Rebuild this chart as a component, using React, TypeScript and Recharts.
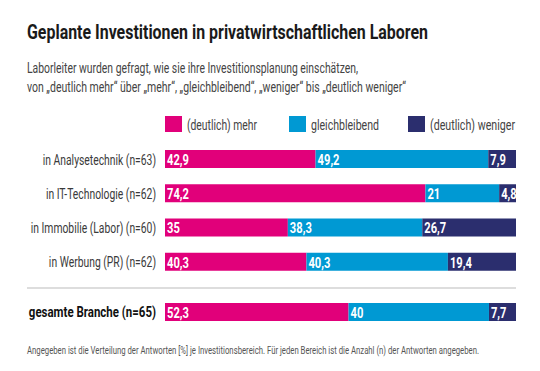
import React from "react";
import { BarChart, Bar, XAxis, YAxis, LabelList } from "recharts";

const categories = [
  "in Analysetechnik (n=63)",
  "in IT-Technologie (n=62)",
  "in Immobilie (Labor) (n=60)",
  "in Werbung (PR) (n=62)",
];
const mehr = [42.9, 74.2, 35, 40.3];
const gleich = [49.2, 21, 38.3, 40.3];
const weniger = [7.9, 4.8, 26.7, 19.4];

const totalCategory = ["gesamte Branche (n=65)"];
const totalMehr = [52.3];
const totalGleich = [40];
const totalWeniger = [7.7];

const seriesNames = ["(deutlich) mehr", "gleichbleibend", "(deutlich) weniger"];
const colors = ["#E1007A", "#0099D3", "#2B2E6E"];

const FONT = "Roboto, 'DejaVu Sans', sans-serif";

const data = categories.map((c, i) => ({ name: c, mehr: mehr[i], gleich: gleich[i], weniger: weniger[i] }));
const totalData = totalCategory.map((c, i) => ({ name: c, mehr: totalMehr[i], gleich: totalGleich[i], weniger: totalWeniger[i] }));

const fmt = (v: any) => String(v).replace(".", ",");

const keys = ["mehr", "gleich", "weniger"];

const BarLabel = (props: any) => {
  const { x, y, height, value } = props;
  return (
    <g transform={`translate(${Number(x) + 2},${Number(y) + Number(height) / 2})`}>
      <text transform="scale(0.72,1)" dy="0.38em" fill="#fff" fontFamily={FONT} fontWeight={700} fontSize={15.5}>
        {fmt(value)}
      </text>
    </g>
  );
};

const makeTick = (bold: boolean) => (props: any) => {
  const { x, y, payload } = props;
  return (
    <g transform={`translate(${x},${y})`}>
      <text
        transform={`scale(${bold ? 0.765 : 0.69},1)`}
        textAnchor="end"
        dy="0.36em"
        fill={bold ? "#111" : "#3a3a3a"}
        fontFamily={FONT}
        fontWeight={bold ? 700 : 400}
        fontSize={15}
      >
        {payload.value}
      </text>
    </g>
  );
};

function Bars() {
  return keys.map((k, i) => (
    <Bar key={k} dataKey={k} stackId="a" fill={colors[i]} isAnimationActive={false} barSize={18}>
      <LabelList dataKey={k} content={BarLabel} />
    </Bar>
  ));
}

const legendX = [165, 289, 408];
const legendW = [70, 68, 85];

export default function App() {
  return (
    <div style={{ position: "absolute", left: 0, top: 0, width: 540, height: 371, background: "#fff", fontFamily: FONT, overflow: "hidden" }}>
      <div style={{ position: "absolute", left: 0, top: 142 }}>
        <BarChart width={540} height={137} data={data} layout="vertical" margin={{ top: 0, right: 24, bottom: 0, left: 0 }}>
          <XAxis type="number" domain={[0, 100]} hide />
          <YAxis type="category" dataKey="name" width={165} axisLine={false} tickLine={false} tickMargin={3} tick={makeTick(false)} />
          {Bars()}
        </BarChart>
      </div>
      <div style={{ position: "absolute", left: 0, top: 295 }}>
        <BarChart width={540} height={34} data={totalData} layout="vertical" margin={{ top: 0, right: 24, bottom: 0, left: 0 }}>
          <XAxis type="number" domain={[0, 100]} hide />
          <YAxis type="category" dataKey="name" width={165} axisLine={false} tickLine={false} tickMargin={3} tick={makeTick(true)} />
          {Bars()}
        </BarChart>
      </div>
      <svg width={540} height={371} style={{ position: "absolute", left: 0, top: 0, pointerEvents: "none" }}>
        <text x={27} y={39} fontFamily={FONT} fontWeight={700} fontSize={21} fill="#1a1a1a" textLength={401} lengthAdjust="spacingAndGlyphs">
          Geplante Investitionen in privatwirtschaftlichen Laboren
        </text>
        <text x={27} y={73} fontFamily={FONT} fontSize={14.5} fill="#444" textLength={331} lengthAdjust="spacingAndGlyphs">
          Laborleiter wurden gefragt, wie sie ihre Investitionsplanung einschätzen,
        </text>
        <text x={27} y={92} fontFamily={FONT} fontSize={14.5} fill="#444" textLength={379} lengthAdjust="spacingAndGlyphs">
          von „deutlich mehr“ über „mehr“, „gleichbleibend“, „weniger“ bis „deutlich weniger“
        </text>
        {legendX.map((x, i) => (
          <g key={i}>
            <rect x={x} y={116} width={17} height={16} fill={colors[i]} />
            <text x={x + 22} y={130} fontFamily={FONT} fontSize={14.5} fill="#444" textLength={legendW[i]} lengthAdjust="spacingAndGlyphs">
              {seriesNames[i]}
            </text>
          </g>
        ))}
        <rect x={27} y={287} width={489} height={2} fill="#ddd" />
        <text x={27} y={354} fontFamily={FONT} fontSize={10.5} fill="#555" textLength={452} lengthAdjust="spacingAndGlyphs">
          Angegeben ist die Verteilung der Antworten [%] je Investitionsbereich. Für jeden Bereich ist die Anzahl (n) der Antworten angegeben.
        </text>
      </svg>
    </div>
  );
}
